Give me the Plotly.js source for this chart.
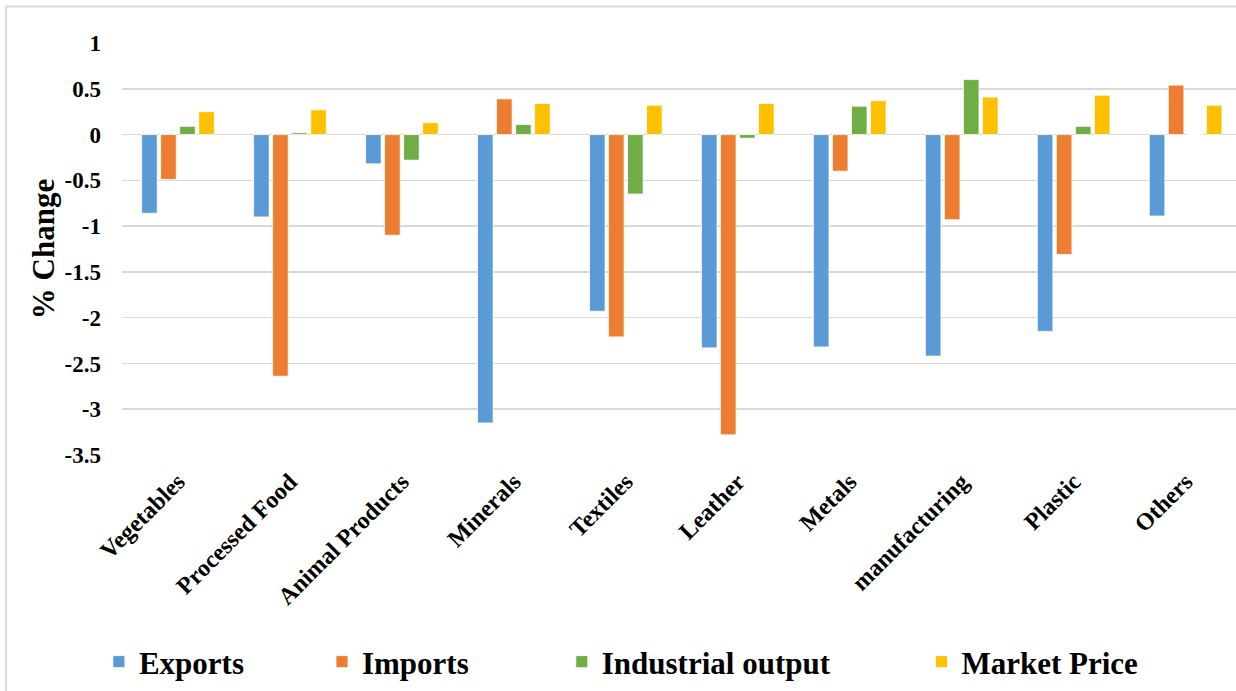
<!DOCTYPE html>
<html>
<head>
<meta charset="utf-8">
<script src="https://cdn.plot.ly/plotly-3.0.1.min.js"></script>
<style>
  html, body { margin: 0; padding: 0; background: #ffffff; }
  #chart { width: 1236px; height: 691px; }
</style>
</head>
<body>
<div id="chart"></div>
<script>
// Sectors along the horizontal axis
const sectors = ["Vegetables", "Processed Food", "Animal Products", "Minerals", "Textiles",
                 "Leather", "Metals", "manufacturing", "Plastic", "Others"];

// Percentage change per sector for each indicator
const exportsChange    = [-0.86, -0.90, -0.32, -3.15, -1.93, -2.33, -2.32, -2.42, -2.15, -0.89];
const importsChange    = [-0.49, -2.64, -1.10,  0.39, -2.21, -3.28, -0.40, -0.93, -1.31,  0.54];
const industrialChange = [ 0.09,  0.02, -0.28,  0.11, -0.65, -0.04,  0.31,  0.60,  0.09,  0.00];
const priceChange      = [ 0.25,  0.27,  0.13,  0.34,  0.32,  0.34,  0.37,  0.41,  0.43,  0.32];

// Value axis ticks
const yTickVals = [1, 0.5, 0, -0.5, -1, -1.5, -2, -2.5, -3, -3.5];
const yTickText = ["1", "0.5", "0", "-0.5", "-1", "-1.5", "-2", "-2.5", "-3", "-3.5"];

const serif = "'Liberation Serif', 'Times New Roman', serif";

function series(name, values, color, legendId) {
  return {
    type: "bar",
    name: name,
    x: sectors,
    y: values,
    marker: { color: color, line: { color: "#ffffff", width: 0.8 } },
    legend: legendId,
    hoverinfo: "x+y+name"
  };
}

const traces = [
  series("Exports", exportsChange, "#5B9BD5", "legend"),
  series("Imports", importsChange, "#ED7D31", "legend2"),
  series("Industrial output", industrialChange, "#70AD47", "legend3"),
  series("Market Price", priceChange, "#FFC000", "legend4")
];

// One legend per series so each entry sits at its own spot along the bottom
function legendAt(xPos) {
  return {
    orientation: "h",
    xref: "container", yref: "container",
    x: xPos, xanchor: "left",
    y: 0.042, yanchor: "middle",
    bgcolor: "rgba(0,0,0,0)",
    borderwidth: 0,
    itemwidth: 30,
    font: { family: serif, size: 31, color: "#000000", weight: "bold" }
  };
}

const layout = {
  width: 1236,
  height: 691,
  margin: { l: 122, r: 0, t: 43, b: 236, pad: 0 },
  paper_bgcolor: "#ffffff",
  plot_bgcolor: "#ffffff",
  barmode: "group",
  bargap: 0.32,
  bargroupgap: 0.18,
  font: { family: serif, color: "#000000" },
  xaxis: {
    type: "category",
    range: [-0.5, 9.45],
    showgrid: false,
    showline: false,
    ticks: "",
    tickangle: -45,
    ticklabelstandoff: 7,
    tickfont: { family: serif, size: 24, color: "#000000", weight: "bold" },
    fixedrange: true
  },
  yaxis: {
    range: [-3.5, 1],
    tickvals: yTickVals,
    ticktext: yTickText,
    showgrid: true,
    gridcolor: "#d9d9d9",
    gridwidth: 1.5,
    zeroline: true,
    zerolinecolor: "#d9d9d9",
    zerolinewidth: 1.5,
    showline: false,
    ticks: "",
    ticklabelstandoff: 20,
    tickfont: { family: serif, size: 23, color: "#000000", weight: "bold" },
    title: {
      text: "% Change",
      standoff: 0,
      font: { family: serif, size: 31, color: "#000000", weight: "bold" }
    },
    fixedrange: true
  },
  showlegend: true,
  legend: legendAt(0.0800),
  legend2: legendAt(0.2605),
  legend3: legendAt(0.4545),
  legend4: legendAt(0.7455),
  shapes: [{
    type: "rect",
    xref: "paper", yref: "paper",
    x0: -0.104, x1: 1.05,
    y0: -0.7, y1: 1.0886,
    line: { color: "#d9d9d9", width: 2 },
    fillcolor: "rgba(0,0,0,0)",
    layer: "above"
  }]
};

Plotly.newPlot("chart", traces, layout, { displayModeBar: false, staticPlot: true });
</script>
</body>
</html>
